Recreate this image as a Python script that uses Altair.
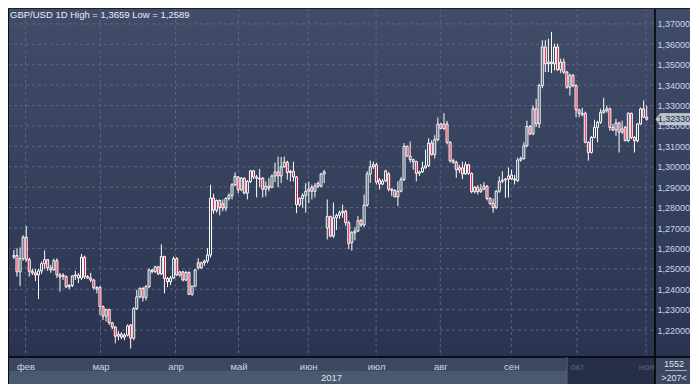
import json
import altair as alt
import pandas as pd

# ---------------- data ----------------
opens = [1.2558,1.2565,1.2485,1.2550,1.2655,1.2545,1.2488,1.2480,1.2470,1.2490,
1.2525,1.2545,1.2505,1.2495,1.2540,1.2470,1.2470,1.2462,1.2412,1.2418,
1.2465,1.2470,1.2455,1.2557,1.2462,1.2455,1.2445,1.2408,1.2410,1.2315,
1.2268,1.2300,1.2236,1.2215,1.2170,1.2180,1.2165,1.2175,1.2225,1.2160,
1.2305,1.2363,1.2404,1.2360,1.2413,1.2494,1.2486,1.2510,1.2475,1.2560,
1.2453,1.2437,1.2455,1.2550,1.2470,1.2485,1.2445,1.2482,1.2375,1.2415,
1.2530,1.2505,1.2530,1.2538,1.2568,1.2847,1.2787,1.2835,1.2819,1.2798,
1.2845,1.2860,1.2912,1.2950,1.2888,1.2944,1.2871,1.2928,1.2980,1.2950,
1.2944,1.2944,1.2890,1.2905,1.2900,1.2955,1.2975,1.2955,1.3000,1.3022,
1.2972,1.2978,1.2950,1.2814,1.2845,1.2860,1.2880,1.2900,1.2880,1.2918,
1.2905,1.2965,1.2700,1.2757,1.2660,1.2750,1.2762,1.2775,1.2782,1.2726,
1.2628,1.2677,1.2685,1.2737,1.2715,1.2812,1.2965,1.3000,1.3010,1.2935,
1.2915,1.2930,1.2965,1.2890,1.2884,1.2853,1.2880,1.2937,1.3100,1.3052,
1.3035,1.3025,1.2968,1.2975,1.2995,1.3005,1.3116,1.3060,1.3133,1.3209,
1.3188,1.3210,1.3120,1.3030,1.3022,1.2985,1.2995,1.2965,1.3010,1.2968,
1.2878,1.2900,1.2878,1.2890,1.2905,1.2845,1.2820,1.2800,1.2880,1.2929,
1.2935,1.2940,1.2960,1.2940,1.2933,1.3033,1.3040,1.3103,1.3197,1.3161,
1.3284,1.3210,1.3398,1.3587,1.3505,1.3513,1.3505,1.3587,1.3475,1.3513,
1.3464,1.3390,1.3448,1.3398,1.3279,1.3255,1.3262,1.3120,1.3070,1.3144,
1.3193,1.3218,1.3267,1.3275,1.3284,1.3193,1.3180,1.3215,1.3170,1.3193,
1.3128,1.3262,1.3144,1.3128,1.3210,1.3284,1.3243]
highs = [1.2592,1.2600,1.2605,1.2665,1.2710,1.2555,1.2500,1.2500,1.2500,1.2535,
1.2590,1.2548,1.2520,1.2550,1.2552,1.2480,1.2478,1.2468,1.2425,1.2470,
1.2490,1.2480,1.2573,1.2565,1.2470,1.2480,1.2450,1.2415,1.2415,1.2320,
1.2305,1.2305,1.2240,1.2220,1.2195,1.2190,1.2185,1.2228,1.2230,1.2312,
1.2396,1.2410,1.2412,1.2420,1.2502,1.2500,1.2515,1.2515,1.2620,1.2565,
1.2460,1.2465,1.2560,1.2558,1.2490,1.2490,1.2490,1.2488,1.2418,1.2498,
1.2552,1.2535,1.2545,1.2601,1.2912,1.2868,1.2840,1.2840,1.2840,1.2850,
1.2870,1.2920,1.2972,1.2955,1.2950,1.2948,1.2935,1.2985,1.2985,1.2960,
1.2990,1.2950,1.2928,1.2945,1.2962,1.3020,1.3050,1.3048,1.3050,1.3030,
1.2985,1.3025,1.2955,1.2850,1.2870,1.2920,1.2928,1.2912,1.2920,1.2928,
1.2970,1.2985,1.2840,1.2760,1.2825,1.2770,1.2785,1.2815,1.2790,1.2735,
1.2685,1.2705,1.2758,1.2745,1.2864,1.2978,1.3030,1.3025,1.3020,1.2945,
1.2940,1.2985,1.2975,1.2895,1.2890,1.2929,1.2950,1.3116,1.3105,1.3124,
1.3040,1.3030,1.2980,1.3025,1.3084,1.3140,1.3130,1.3155,1.3241,1.3215,
1.3263,1.3225,1.3125,1.3040,1.3030,1.3010,1.3025,1.3025,1.3015,1.2972,
1.2905,1.2910,1.2915,1.2925,1.2910,1.2850,1.2845,1.2885,1.2953,1.2978,
1.2945,1.2997,1.2986,1.2960,1.3045,1.3050,1.3120,1.3226,1.3205,1.3300,
1.3333,1.3407,1.3620,1.3620,1.3627,1.3661,1.3603,1.3603,1.3530,1.3530,
1.3470,1.3456,1.3455,1.3405,1.3285,1.3289,1.3270,1.3125,1.3150,1.3230,
1.3225,1.3284,1.3338,1.3300,1.3290,1.3210,1.3235,1.3220,1.3226,1.3200,
1.3267,1.3265,1.3150,1.3215,1.3290,1.3325,1.3300]
lows = [1.2548,1.2462,1.2415,1.2540,1.2535,1.2462,1.2470,1.2440,1.2352,1.2475,
1.2500,1.2490,1.2480,1.2490,1.2455,1.2388,1.2445,1.2405,1.2400,1.2410,
1.2445,1.2430,1.2445,1.2450,1.2450,1.2435,1.2398,1.2380,1.2274,1.2249,
1.2241,1.2225,1.2205,1.2135,1.2150,1.2155,1.2150,1.2168,1.2110,1.2150,
1.2298,1.2355,1.2340,1.2345,1.2405,1.2478,1.2480,1.2470,1.2470,1.2380,
1.2410,1.2420,1.2450,1.2465,1.2460,1.2438,1.2440,1.2372,1.2368,1.2410,
1.2495,1.2500,1.2515,1.2527,1.2555,1.2770,1.2775,1.2762,1.2782,1.2782,
1.2835,1.2840,1.2905,1.2870,1.2880,1.2865,1.2840,1.2920,1.2940,1.2850,
1.2900,1.2850,1.2855,1.2880,1.2895,1.2925,1.2900,1.2920,1.2995,1.2937,
1.2928,1.2928,1.2773,1.2805,1.2800,1.2775,1.2822,1.2840,1.2850,1.2895,
1.2900,1.2920,1.2644,1.2655,1.2650,1.2690,1.2745,1.2750,1.2710,1.2596,
1.2589,1.2640,1.2680,1.2705,1.2705,1.2805,1.2921,1.2990,1.2913,1.2889,
1.2910,1.2925,1.2880,1.2856,1.2850,1.2807,1.2875,1.2930,1.3050,1.3020,
1.2986,1.2929,1.2955,1.2970,1.2990,1.3000,1.3055,1.3040,1.3125,1.3185,
1.3180,1.3110,1.3020,1.3015,1.2946,1.2970,1.2940,1.2960,1.2960,1.2870,
1.2870,1.2865,1.2872,1.2885,1.2835,1.2812,1.2775,1.2792,1.2872,1.2920,
1.2848,1.2850,1.2935,1.2913,1.2925,1.3025,1.3035,1.3095,1.3155,1.3155,
1.3195,1.3190,1.3385,1.3464,1.3464,1.3459,1.3472,1.3470,1.3459,1.3455,
1.3382,1.3349,1.3390,1.3243,1.3243,1.3248,1.3115,1.3030,1.3065,1.3140,
1.3120,1.3210,1.3260,1.3265,1.3177,1.3175,1.3152,1.3070,1.3160,1.3125,
1.3120,1.3135,1.3070,1.3120,1.3205,1.3240,1.3226]
closes = [1.2565,1.2485,1.2550,1.2655,1.2545,1.2488,1.2480,1.2470,1.2490,1.2525,
1.2545,1.2505,1.2495,1.2540,1.2470,1.2460,1.2462,1.2412,1.2418,1.2465,
1.2470,1.2455,1.2557,1.2462,1.2455,1.2445,1.2408,1.2400,1.2315,1.2268,
1.2300,1.2236,1.2215,1.2170,1.2180,1.2165,1.2175,1.2220,1.2160,1.2305,
1.2363,1.2404,1.2360,1.2413,1.2494,1.2486,1.2510,1.2475,1.2560,1.2453,
1.2437,1.2455,1.2550,1.2470,1.2485,1.2445,1.2482,1.2375,1.2415,1.2495,
1.2505,1.2530,1.2538,1.2568,1.2847,1.2787,1.2835,1.2800,1.2798,1.2845,
1.2860,1.2912,1.2953,1.2888,1.2944,1.2871,1.2928,1.2980,1.2950,1.2944,
1.2940,1.2890,1.2905,1.2895,1.2955,1.2975,1.2955,1.3000,1.3022,1.2972,
1.2978,1.2950,1.2814,1.2845,1.2860,1.2880,1.2890,1.2880,1.2905,1.2905,
1.2965,1.2975,1.2757,1.2660,1.2750,1.2762,1.2775,1.2782,1.2726,1.2624,
1.2677,1.2685,1.2737,1.2715,1.2812,1.2965,1.3000,1.3010,1.2925,1.2915,
1.2930,1.2980,1.2890,1.2884,1.2853,1.2880,1.2937,1.3100,1.3052,1.3035,
1.3025,1.2968,1.2975,1.2995,1.3005,1.3116,1.3060,1.3133,1.3209,1.3188,
1.3210,1.3120,1.3030,1.3022,1.2985,1.2995,1.2965,1.3010,1.2968,1.2878,
1.2900,1.2878,1.2890,1.2905,1.2845,1.2820,1.2800,1.2880,1.2929,1.2935,
1.2940,1.2955,1.2940,1.2935,1.3033,1.3040,1.3103,1.3197,1.3161,1.3284,
1.3210,1.3398,1.3587,1.3505,1.3513,1.3505,1.3587,1.3475,1.3513,1.3464,
1.3390,1.3448,1.3398,1.3279,1.3262,1.3262,1.3120,1.3070,1.3144,1.3193,
1.3218,1.3267,1.3275,1.3284,1.3193,1.3180,1.3215,1.3170,1.3185,1.3128,
1.3262,1.3144,1.3128,1.3210,1.3284,1.3243,1.3233]

price_ticks = [1.22, 1.23, 1.24, 1.25, 1.26, 1.27, 1.28, 1.29, 1.30,
               1.31, 1.32, 1.33, 1.34, 1.35, 1.36, 1.37]
month_pos = [3.8, 28.2, 52.6, 73.1, 95.8, 117.9, 138.8, 161.9, 183.3, 205.8]
month_names = ["фев", "мар", "апр", "май", "июн", "июл", "авг", "сен", "окт", "ноя"]
title_text = "GBP/USD 1D  High = 1,3659  Low = 1,2589"
year_text = "2017"
total_bars_text = "1552"
visible_bars_text = ">207<"

# ---------------- styling ----------------
W, H = 647, 349
RIGHT, BOTTOM = 35, 27
FONT = "Liberation Sans"
RED = "#e8163c"
BG_TOP, BG_BOT = "#414d68", "#2a3450"
GRID = "#5a6782"
ROW1, ROW2, SCROLL = "#3c4761", "#4b596f", "#262f47"
LABEL, DIM = "#c9d6ee", "#56667f"

xscale = alt.Scale(domain=[-0.3, 207.07], nice=False, zero=False)
yscale = alt.Scale(domain=[1.2068, 1.3778], nice=False, zero=False)

names_js = json.dumps(month_names, ensure_ascii=False)
pos_js = json.dumps(month_pos)
xaxis = alt.Axis(values=month_pos, labelExpr=f"{names_js}[indexof({pos_js}, datum.value)]",
                 title=None, grid=False, ticks=False, tickSize=0, domain=False,
                 labelPadding=9, labelBaseline="middle", labelFont=FONT, labelFontSize=9.5,
                 labelColor=alt.condition("datum.value > 180", alt.value(DIM), alt.value(LABEL)),
                 labelOverlap=False, zindex=1)
yaxis = alt.Axis(values=price_ticks, orient="right",
                 labelExpr="replace(format(datum.value, '.5f'), '.', ',')",
                 title=None, grid=False, ticks=False, tickSize=0, domain=False,
                 labelPadding=2, labelAlign="left", labelBaseline="middle",
                 labelFont=FONT, labelFontSize=9, labelColor=LABEL,
                 labelOverlap=False, zindex=1)

df = pd.DataFrame({"x": list(range(len(opens))), "o": opens, "h": highs, "l": lows, "c": closes})
one = pd.DataFrame({"k": [0]})

def box(x0, x1, y0, y1, color):
    return alt.Chart(one).mark_rect(color=color).encode(
        x=alt.value(x0), x2=alt.value(x1), y=alt.value(y0), y2=alt.value(y1))

grad = alt.LinearGradient(gradient="linear", x1=0, x2=0, y1=0, y2=1,
                          stops=[alt.GradientStop(color=BG_TOP, offset=0),
                                 alt.GradientStop(color=BG_BOT, offset=1)])
bg_plot = box(0, W + RIGHT, 0, H, grad)
bg_row1 = box(0, W, H, H + 14, ROW1)
bg_row2 = box(0, W, H + 14, H + BOTTOM, ROW2)
bg_scroll = box(559, W, H, H + BOTTOM, SCROLL)
bg_corner = box(W, W + RIGHT, H, H + BOTTOM, ROW1)

hgrid = alt.Chart(pd.DataFrame({"p": price_ticks})).mark_rule(
    color=GRID, strokeDash=[3, 3], strokeWidth=1).encode(
    y=alt.Y("p:Q", scale=yscale, axis=yaxis), x=alt.value(0), x2=alt.value(W))
vgrid = alt.Chart(pd.DataFrame({"x": month_pos})).mark_rule(
    color=GRID, strokeDash=[3, 3], strokeWidth=1).encode(
    x=alt.X("x:Q", scale=xscale, axis=xaxis), y=alt.value(0), y2=alt.value(H))

wicks = alt.Chart(df).mark_rule(color="#ffffff", strokeWidth=1).encode(
    x=alt.X("x:Q", scale=xscale, axis=xaxis),
    y=alt.Y("l:Q", scale=yscale, axis=yaxis), y2="h:Q")
bodies = alt.Chart(df).mark_bar(size=2, stroke="#ffffff", strokeWidth=1).encode(
    x=alt.X("x:Q", scale=xscale, axis=xaxis),
    y=alt.Y("o:Q", scale=yscale, axis=yaxis), y2="c:Q",
    fill=alt.condition("datum.c < datum.o", alt.value(RED),
                       alt.Color("o:Q", scale=alt.Scale(domain=[1.3778, 1.2068],
                                                         range=[BG_TOP, BG_BOT],
                                                         interpolate="rgb"),
                                 legend=None)))

def line(x0, x1, y0, y1, color, w=1):
    return alt.Chart(one).mark_rule(color=color, strokeWidth=w).encode(
        x=alt.value(x0), x2=alt.value(x1), y=alt.value(y0), y2=alt.value(y1))

borders = [
    line(W, W, 0, H + BOTTOM, "#000000", 1.5),
    line(0, W + RIGHT, H, H, "#000000", 1.5),
    line(0.5, 0.5, 0, H + BOTTOM, "#0c0f18", 1),
    line(0, W + RIGHT, 0.5, 0.5, "#1b2030", 1),
    line(559, 559, H, H + BOTTOM, "#55647c", 1),
    line(657, 679, H + 13.5, H + 13.5, "#9fb0c8", 1),
]

last = pd.DataFrame({"y": [closes[-1]], "t": [f"{closes[-1]:.5f}".replace(".", ",")]})
pointer = alt.Chart(last).mark_point(
    shape="M-1,0L-0.76,-0.33L1,-0.33L1,0.33L-0.76,0.33Z", size=1156, filled=True,
    fill="#b8c0ca", stroke="#dfe3ea", strokeWidth=0.6, opacity=1).encode(
    x=alt.value(665), y=alt.Y("y:Q", scale=yscale, axis=yaxis))
pointer_text = alt.Chart(last).mark_text(
    font=FONT, fontSize=9, color="#1b2946", align="center", baseline="middle").encode(
    x=alt.value(666), y=alt.Y("y:Q", scale=yscale, axis=yaxis), text="t:N")

def label(txt, x, y, color, align="left", size=9.5):
    return alt.Chart(pd.DataFrame({"t": [txt]})).mark_text(
        font=FONT, fontSize=size, color=color, align=align, baseline="middle").encode(
        x=alt.value(x), y=alt.value(y), text="t:N")

texts = [
    label(title_text, 2, 6.5, "#e8ecf4"),
    label(year_text, W / 2, H + 20.5, "#dce4f2", "center"),
    label(total_bars_text, 666, H + 7, "#dce4f2", "center", 9),
    label(visible_bars_text, 666, H + 20.5, "#dce4f2", "center", 9),
]

chart = alt.layer(
    bg_plot, bg_row1, bg_row2, bg_scroll, bg_corner,
    hgrid, vgrid, wicks, bodies, *borders, pointer, pointer_text, *texts
).properties(
    width=W, height=H,
    autosize=alt.AutoSizeParams(type="none"),
    padding={"left": 0, "top": 0, "right": RIGHT, "bottom": BOTTOM},
    background="#c3ccd8",
).configure_view(stroke=None)

chart.save("out.html", embed_options={"renderer": "svg", "actions": False})
